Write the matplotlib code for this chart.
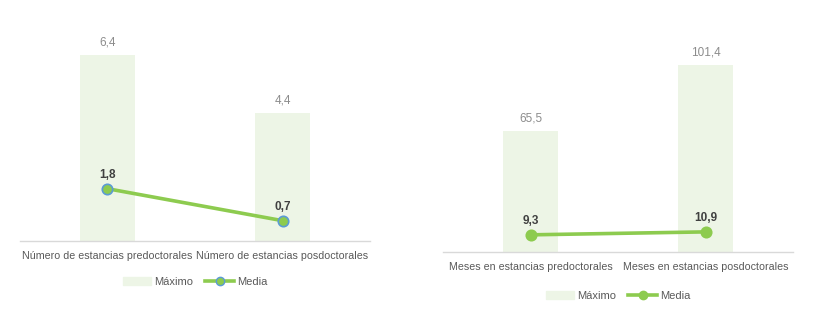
import numpy as np
import matplotlib.pyplot as plt
from matplotlib.patches import Patch
from matplotlib.lines import Line2D

plt.rcParams['font.family'] = ['Liberation Sans', 'DejaVu Sans']

# Estancias
cat_num = ['Número de estancias predoctorales', 'Número de estancias posdoctorales']
max_num = [6.4, 4.4]
media_num = [1.8, 0.7]

# Meses
cat_mes = ['Meses en estancias predoctorales', 'Meses en estancias posdoctorales']
max_mes = [65.5, 101.4]
media_mes = [9.3, 10.9]

bar_color = '#EDF5E6'
line_color = '#8DCB4F'
txt_color = '#595959'
lbl_color = '#8C8C8C'


def fmt(v):
    return f'{v:.1f}'.replace('.', ',')


def draw_panel(ax, cats, maxs, medias, ymax, edge, leg_y):
    x = np.arange(len(cats))
    ax.bar(x, maxs, width=0.315, color=bar_color, zorder=1)
    ax.plot(x, medias, color=line_color, lw=2.6, marker='o', ms=7.5,
            mfc=line_color, mec=edge, mew=1.2, zorder=3)
    for xi, v in zip(x, maxs):
        ax.annotate(fmt(v), (xi, v), xytext=(0, 5), textcoords='offset points',
                    ha='center', va='bottom', fontsize=8.5, color=lbl_color)
    for xi, v in zip(x, medias):
        ax.annotate(fmt(v), (xi, v), xytext=(0, 5.5), textcoords='offset points',
                    ha='center', va='bottom', fontsize=8.5, fontweight='bold', color='#404040')
    ax.set_xlim(-0.5, 1.5)
    ax.set_ylim(0, ymax)
    ax.set_xticks(x)
    ax.set_xticklabels(cats, fontsize=7.7, color=txt_color)
    ax.tick_params(axis='x', length=0, pad=7)
    ax.set_yticks([])
    for s in ['top', 'right', 'left']:
        ax.spines[s].set_visible(False)
    ax.spines['bottom'].set_color('#D9D9D9')
    ax.spines['bottom'].set_linewidth(1)
    handles = [Patch(color=bar_color, label='Máximo'),
               Line2D([0], [0], color=line_color, lw=2.6, marker='o', ms=6,
                      mfc=line_color, mec=edge, label='Media')]
    ax.legend(handles=handles, loc='center', bbox_to_anchor=(0.5, leg_y), ncol=2,
              frameon=False, fontsize=8, labelcolor=txt_color, handlelength=2.6,
              handleheight=0.7, columnspacing=1.1, handletextpad=0.25)


fig = plt.figure(figsize=(8.19, 3.35), dpi=100)
ax1 = fig.add_axes([0.0244, 0.2806, 0.4274, 0.607])
ax2 = fig.add_axes([0.5409, 0.2478, 0.4274, 0.6606])

draw_panel(ax1, cat_num, max_num, media_num, 7, '#5B9BD5', -0.2)
draw_panel(ax2, cat_mes, max_mes, media_mes, 120, line_color, -0.2)

fig.savefig('out.png', dpi=100)
